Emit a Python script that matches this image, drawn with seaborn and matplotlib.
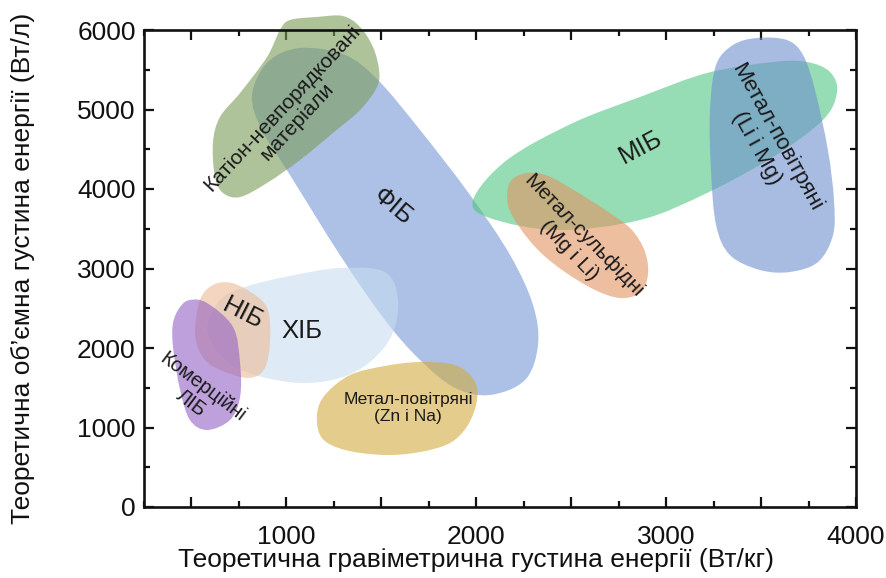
import numpy as np
import matplotlib
matplotlib.use("Agg")
import matplotlib.pyplot as plt
from matplotlib.path import Path
from matplotlib.patches import PathPatch
from matplotlib.ticker import MultipleLocator, FuncFormatter
import seaborn as sns

# ---- region outlines: gravimetric (Wh/kg) vs volumetric (Wh/l) energy density ----
fib_x = [1072, 1309, 1482, 1704, 1967, 2178, 2299, 2325, 2257, 2072, 1888, 1704, 1519, 1282, 1019, 871, 819, 903]
fib_y = [5774, 5686, 5371, 4742, 3925, 3170, 2541, 2038, 1598, 1409, 1497, 1849, 2352, 3170, 4176, 4742, 5183, 5598]

cation_x = [1019, 1161, 1298, 1388, 1456, 1488, 1477, 1388, 1245, 1072, 898, 756, 666, 624, 613, 650, 756, 898, 966]
cation_y = [6126, 6164, 6176, 6038, 5786, 5497, 5283, 4994, 4705, 4365, 4076, 3899, 3950, 4151, 4579, 4906, 5208, 5661, 6000]

mib_x = [1983, 2162, 2509, 2862, 3215, 3563, 3742, 3863, 3900, 3826, 3563, 3215, 2862, 2425, 2072]
mib_y = [3862, 4365, 4830, 5157, 5459, 5598, 5598, 5472, 5220, 4868, 4403, 3950, 3610, 3484, 3635]

liair_x = [3478, 3636, 3721, 3784, 3852, 3884, 3879, 3800, 3652, 3494, 3336, 3263, 3236, 3231, 3263, 3352]
liair_y = [5900, 5874, 5686, 5245, 4491, 3862, 3421, 3082, 2956, 2981, 3170, 3547, 4239, 4994, 5560, 5811]

sulf_x = [2178, 2267, 2378, 2530, 2704, 2820, 2889, 2904, 2862, 2757, 2625, 2467, 2336, 2230, 2167]
sulf_y = [4088, 4201, 4164, 3962, 3698, 3484, 3208, 2918, 2692, 2629, 2730, 2956, 3208, 3510, 3799]

xib_x = [582, 650, 782, 1019, 1282, 1519, 1588, 1556, 1440, 1282, 1072, 835, 677]
xib_y = [2226, 2604, 2767, 2906, 3006, 2956, 2604, 2164, 1824, 1623, 1560, 1660, 1849]

nib_x = [545, 613, 713, 835, 903, 914, 887, 808, 677, 571, 519]
nib_y = [2604, 2793, 2818, 2667, 2478, 2101, 1749, 1623, 1698, 1849, 2164]

lib_x = [492, 582, 719, 756, 756, 703, 582, 492, 440, 403, 403, 440]
lib_y = [2604, 2566, 2264, 1811, 1384, 1094, 969, 1094, 1472, 2013, 2315, 2516]

znair_x = [1704, 1888, 1988, 2004, 1956, 1862, 1704, 1519, 1309, 1187, 1161, 1203, 1335, 1519]
znair_y = [1824, 1786, 1598, 1346, 1031, 805, 692, 654, 717, 868, 1157, 1409, 1660, 1774]

region_colors = ["#7598d4", "#7a9b58", "#50c582", "#6f90d0", "#e39361",
                 "#c8dcf0", "#eebc96", "#9361c5", "#d2ac3f"]

# ---- labels: text, position (data), rotation, size ----
label_text = ["Катіон-невпорядковані\nматеріали", "ФІБ", "МІБ", "Метал-повітряні\n(Li і Mg)",
              "Метал-сульфідні\n(Mg і Li)", "ХІБ", "НІБ", "Комерційні\nЛІБ", "Метал-повітряні\n(Zn і Na)"]
label_x = [1019, 1561, 2868, 3531, 2525, 1082, 771, 529, 1640]
label_y = [4931, 3774, 4528, 4579, 3321, 2214, 2440, 1409, 1245]
label_rot = [47, -40, 28, -61, -46, 0, -27, -37, 0]
label_size = [15, 18.5, 18.5, 16, 15, 18.5, 18.5, 14.5, 12.5]

x_limits = (250, 4000)
y_limits = (0, 6000)

sns.set_theme(style="ticks")
plt.rcParams["font.family"] = ["Liberation Sans", "DejaVu Sans"]
palette = sns.color_palette(region_colors)


def smooth_outline(xs, ys):
    """Closed Catmull-Rom outline through the given vertices as a Bezier path."""
    pts = np.column_stack([xs, ys]).astype(float)
    n = len(pts)
    verts = [pts[0]]
    codes = [Path.MOVETO]
    for i in range(n):
        p0, p1, p2, p3 = pts[i - 1], pts[i], pts[(i + 1) % n], pts[(i + 2) % n]
        verts += [p1 + (p2 - p0) / 6.0, p2 - (p3 - p1) / 6.0, p2]
        codes += [Path.CURVE4] * 3
    verts.append(pts[0])
    codes.append(Path.CLOSEPOLY)
    return Path(verts, codes)


fig = plt.figure(figsize=(8.87, 5.78), dpi=100)
ax = fig.add_axes([144 / 887, 71 / 578, 712 / 887, 477 / 578])

regions = [(fib_x, fib_y), (cation_x, cation_y), (mib_x, mib_y), (liair_x, liair_y),
           (sulf_x, sulf_y), (xib_x, xib_y), (nib_x, nib_y), (lib_x, lib_y), (znair_x, znair_y)]
for (xs, ys), col in zip(regions, palette):
    ax.add_patch(PathPatch(smooth_outline(xs, ys), facecolor=col, edgecolor="none",
                           alpha=0.6, zorder=1, clip_on=False))

for txt, x, y, r, s in zip(label_text, label_x, label_y, label_rot, label_size):
    ax.text(x, y, txt, rotation=r, fontsize=s, ha="center", va="center",
            multialignment="center", rotation_mode="anchor", color="#1a1a1a",
            linespacing=1.1, zorder=4)

ax.set_xlim(*x_limits)
ax.set_ylim(*y_limits)

ax.xaxis.set_major_locator(MultipleLocator(500))
ax.xaxis.set_minor_locator(MultipleLocator(250))
ax.xaxis.set_major_formatter(FuncFormatter(lambda v, p: f"{int(v)}" if v % 1000 == 0 else ""))
ax.yaxis.set_major_locator(MultipleLocator(1000))
ax.yaxis.set_minor_locator(MultipleLocator(500))

ax.tick_params(which="both", direction="in", top=True, right=True, width=1.6, color="#111111",
               labelsize=19, labelcolor="#111111")
ax.tick_params(which="major", length=7)
ax.tick_params(which="minor", length=4.3)
ax.tick_params(axis="x", which="major", pad=13)
ax.tick_params(axis="y", which="major", pad=6)

for sp in ax.spines.values():
    sp.set_linewidth(1.9)
    sp.set_color("#111111")
    sp.set_zorder(5)

ax.set_xlabel("Теоретична гравіметрична густина енергії (Вт/кг)", fontsize=19, color="#111111")
ax.set_ylabel("Теоретична об’ємна густина енергії (Вт/л)", fontsize=19, color="#111111")
ax.xaxis.set_label_coords(0.466, -0.086)
ax.yaxis.set_label_coords(-0.153, 0.5)

fig.savefig("out.png", dpi=100)
